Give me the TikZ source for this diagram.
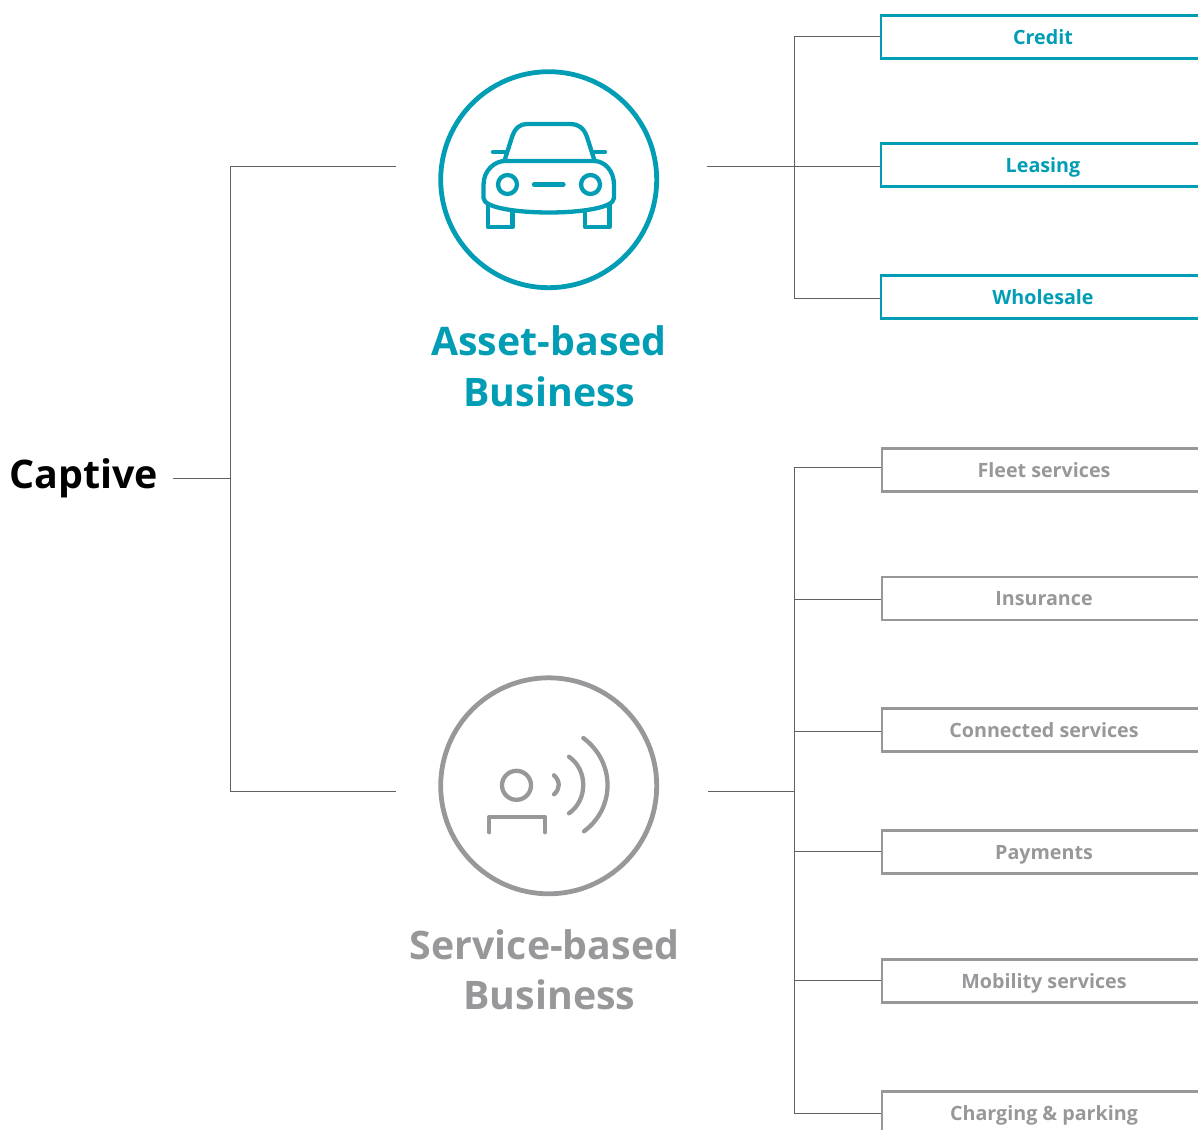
\documentclass[tikz,border=0pt]{standalone}
\usepackage{fontspec}
\setmainfont{Open Sans}
\definecolor{assetcol}{HTML}{009DB5}
\definecolor{servicecol}{HTML}{98989B}
\definecolor{linecol}{HTML}{606063}
\tikzset{
    assetbox/.style={draw=assetcol, text=assetcol, line width=2.8pt, minimum width=324pt, minimum height=43pt, text height=15pt, text depth=0.5pt, inner sep=0pt, font=\bfseries\fontsize{19.7}{24}\selectfont},
    servicebox/.style={assetbox, draw=servicecol, text=servicecol},
    title/.style={inner sep=0pt, anchor=base, font=\bfseries\fontsize{39.3}{46}\selectfont},
    wire/.style={draw=linecol, line width=1pt},
    icon/.style={line width=4.3pt, line cap=round, line join=round}
}
\begin{document}
\begin{tikzpicture}[x=1pt,y=-1pt]
    \useasboundingbox (0,0) rectangle (1198,1129);
    \clip (0,0) rectangle (1198,1129);
    % coordinates for the free ends
    \coordinate (captiveout) at (173,478.5);
    \coordinate (assetin) at (396,166.5);
    \coordinate (serviceinn) at (396,791.5);
    \coordinate (assetout) at (707,166.5);
    \coordinate (serviceout) at (708,791.5);
    \coordinate (mainbus) at (230.5,478.5);
    \coordinate (assetbus) at (794.5,166.5);
    \coordinate (servicebus) at (794.5,791.5);
    % left part
    \node[inner sep=0pt, anchor=base west, font=\bfseries\fontsize{39.4}{46}\selectfont] (captive) at (9,488) {Captive};
    \node[circle, draw=assetcol, line width=4.8pt, minimum size=216pt] (assetcircle) at (548.7,179.7) {};
    \node[circle, draw=servicecol, line width=4.8pt, minimum size=216pt] (servicecircle) at (548.7,785.8) {};
    \node[title, text=assetcol] (assetone) at (549,355) {Asset-based};
    \node[title, text=assetcol] (assettwo) at (549.5,406) {Business};
    \node[title, text=servicecol] (serviceone) at (544.5,959) {Service-based};
    \node[title, text=servicecol] (servicetwo) at (549.5,1009) {Business};
    % boxes
    \node[assetbox] (credit) at (1043,37) {Credit};
    \node[assetbox] (leasing) at (1043,165) {Leasing};
    \node[assetbox] (wholesale) at (1043,297) {Wholesale};
    \node[servicebox] (fleet) at (1044,470) {Fleet services};
    \node[servicebox] (insurance) at (1044,598.5) {Insurance};
    \node[servicebox] (connected) at (1044,730) {Connected services};
    \node[servicebox] (payments) at (1044,852) {Payments};
    \node[servicebox] (mobility) at (1044,981) {Mobility services};
    \node[servicebox] (charging) at (1044,1113) {Charging \& parking};
    % lines
    \draw[wire] (captiveout) -- (mainbus);
    \draw[wire] (assetin) -| (mainbus) |- (serviceinn);
    \draw[wire] (assetout) -- (assetout -| leasing.west);
    \draw[wire] (serviceout) -- (servicebus);
    \draw[wire] ([yshift=0.5pt]credit.west) -| (assetbus) |- ([yshift=-1.5pt]wholesale.west);
    \draw[wire] ([yshift=3pt]fleet.west) -| (servicebus) |- ([yshift=-0.5pt]charging.west);
    \draw[wire] ([yshift=-1pt]insurance.west) -- ([yshift=-1pt]insurance.west -| servicebus);
    \draw[wire] ([yshift=-1.5pt]connected.west) -- ([yshift=-1.5pt]connected.west -| servicebus);
    \draw[wire] ([yshift=0.5pt]payments.west) -- ([yshift=0.5pt]payments.west -| servicebus);
    \draw[wire] ([yshift=0.5pt]mobility.west) -- ([yshift=0.5pt]mobility.west -| servicebus);
    % car
    \draw[icon, assetcol] (505,159) -- (512,137) .. controls (515,128) and (520,124) .. (527,124) -- (571,124) .. controls (578,124) and (584,128) .. (587,137) -- (594,159);
    \draw[icon, assetcol] (483.5,198) -- (483.5,185) .. controls (483.5,170) and (495,161) .. (505,161) -- (594,161) .. controls (604,161) and (614,170) .. (614,185) -- (614,198) .. controls (614,208) and (580,212.5) .. (549,212.5) .. controls (518,212.5) and (483.5,208) .. (483.5,198) -- cycle;
    \draw[icon, assetcol] (488,205) -- (488,227) -- (512.5,227) -- (512.5,211);
    \draw[icon, assetcol] (585,211) -- (585,227) -- (609.5,227) -- (609.5,205);
    \draw[icon, assetcol] (507.5,184.5) circle (9.5);
    \draw[icon, assetcol] (590.5,184.5) circle (9.5);
    \draw[icon, assetcol] (534,184.5) -- (563.5,184.5);
    \draw[icon, assetcol] (493,152) -- (505,152);
    \draw[icon, assetcol] (594,152) -- (605,152);
    % person and waves
    \draw[icon, servicecol] (516.5,785.3) circle (14.5);
    \draw[icon, servicecol] (489.3,832.3) -- (489.3,817) -- (545,817) -- (545,832.3);
    \draw[icon, servicecol] (554,775.3) .. controls (560.3,781) and (560.3,789) .. (554,794.3);
    \draw[icon, servicecol] (569,756.7) .. controls (588,770) and (588,800) .. (569,813.3);
    \draw[icon, servicecol] (583.3,738) .. controls (615.5,762) and (615.5,808) .. (584,831.3);
\end{tikzpicture}
\end{document}
